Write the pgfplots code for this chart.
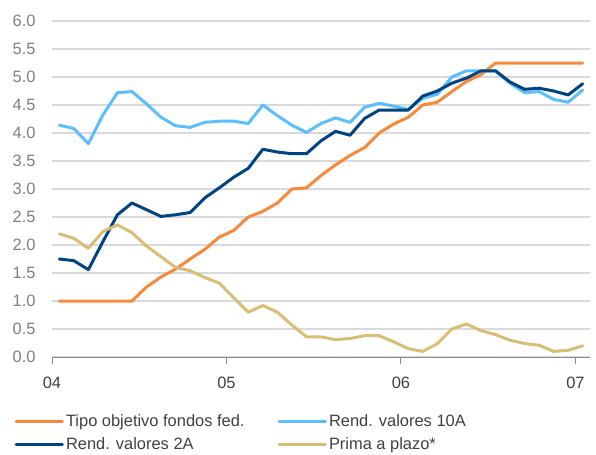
\documentclass[border=0pt]{standalone}
\usepackage{fontspec}
\setmainfont{Liberation Sans}
\usepackage{pgfplots}
\usepackage{pgfplotstable}
\pgfplotsset{compat=1.18}

\definecolor{cOrange}{HTML}{F7893B}
\definecolor{cSky}{HTML}{5BBEFF}
\definecolor{cNavy}{HTML}{004481}
\definecolor{cSand}{HTML}{D8BE75}
\definecolor{cGrid}{HTML}{D9D9D9}
\definecolor{cAxis}{HTML}{8C8C8C}
\definecolor{cYlab}{HTML}{7F7F7F}
\definecolor{cText}{HTML}{404040}

% monthly, Jan 2004 (m=0.5) .. Jan 2007 (m=36.5)
\pgfplotstableread{
m    fed   y10   y2    prima
0.5  1.00  4.14  1.75  2.20
1.5  1.00  4.08  1.72  2.12
2.5  1.00  3.81  1.56  1.94
3.5  1.00  4.32  2.06  2.24
4.5  1.00  4.72  2.54  2.36
5.5  1.00  4.74  2.75  2.22
6.5  1.25  4.52  2.63  1.98
7.5  1.43  4.28  2.51  1.79
8.5  1.57  4.13  2.54  1.60
9.5  1.75  4.10  2.58  1.54
10.5 1.92  4.19  2.84  1.42
11.5 2.14  4.21  3.02  1.32
12.5 2.26  4.21  3.21  1.06
13.5 2.50  4.17  3.37  0.80
14.5 2.60  4.50  3.71  0.92
15.5 2.75  4.31  3.66  0.80
16.5 3.00  4.14  3.63  0.57
17.5 3.02  4.01  3.63  0.36
18.5 3.24  4.17  3.86  0.36
19.5 3.43  4.27  4.03  0.31
20.5 3.60  4.19  3.96  0.33
21.5 3.74  4.46  4.26  0.38
22.5 4.00  4.53  4.41  0.38
23.5 4.16  4.48  4.41  0.27
24.5 4.28  4.42  4.41  0.15
25.5 4.50  4.62  4.66  0.10
26.5 4.55  4.69  4.75  0.24
27.5 4.74  5.00  4.89  0.50
28.5 4.92  5.11  4.98  0.59
29.5 5.04  5.11  5.11  0.47
30.5 5.25  5.11  5.11  0.40
31.5 5.25  4.89  4.91  0.30
32.5 5.25  4.72  4.78  0.24
33.5 5.25  4.74  4.80  0.21
34.5 5.25  4.60  4.75  0.10
35.5 5.25  4.55  4.68  0.12
36.5 5.25  4.77  4.88  0.20
}\rates

\begin{document}
\begin{tikzpicture}
\begin{axis}[
  scale only axis,
  width=538bp, height=336bp,
  xmin=0, xmax=37, ymin=0, ymax=6,
  axis lines*=left,
  x axis line style={draw=cAxis, line width=1bp},
  y axis line style={draw=none},
  xtick={0,12,24,36},
  xticklabels={04,05,06,07},
  ytick={0,0.5,...,6},
  tick align=outside,
  major tick length=7bp,
  xtick style={draw=cAxis, line width=1bp},
  ytick style={draw=none},
  ymajorgrids,
  grid style={draw=cGrid, line width=1.2bp},
  /pgf/number format/assume math mode=true,
  yticklabel style={/pgf/number format/.cd, fixed, fixed zerofill, precision=1, /tikz/.cd,
    text=cYlab, xshift=-6bp},
  xticklabel style={text=cText, yshift=-10bp},
  tick label style={font=\fontsize{16.5}{19}\selectfont},
  every axis plot/.append style={line width=3bp, line join=round, line cap=round},
  legend columns=2,
  legend cell align=left,
  legend image code/.code={\draw[#1, line width=3.5bp] (0bp,0bp) -- (46bp,0bp);},
  legend style={at={(axis description cs:-0.07,-0.166)}, anchor=north west,
    draw=none, fill=none, inner sep=0pt, row sep=5.5bp,
    font=\fontsize{16.5}{19}\selectfont, text=cText,
    /tikz/every even column/.append style={column sep=31bp}},
]
\addplot[cOrange] table[x=m, y=fed] {\rates};
\addlegendentry{Tipo objetivo fondos fed.}
\addplot[cSky] table[x=m, y=y10] {\rates};
\addlegendentry{Rend. valores 10A}
\addplot[cNavy] table[x=m, y=y2] {\rates};
\addlegendentry{Rend. valores 2A}
\addplot[cSand] table[x=m, y=prima] {\rates};
\addlegendentry{Prima a plazo*}
\end{axis}
\pgfresetboundingbox
\path[use as bounding box] ([xshift=-52bp,yshift=-98bp]current axis.south west)
  rectangle ([xshift=544bp,yshift=357bp]current axis.south west);
\end{tikzpicture}
\end{document}
